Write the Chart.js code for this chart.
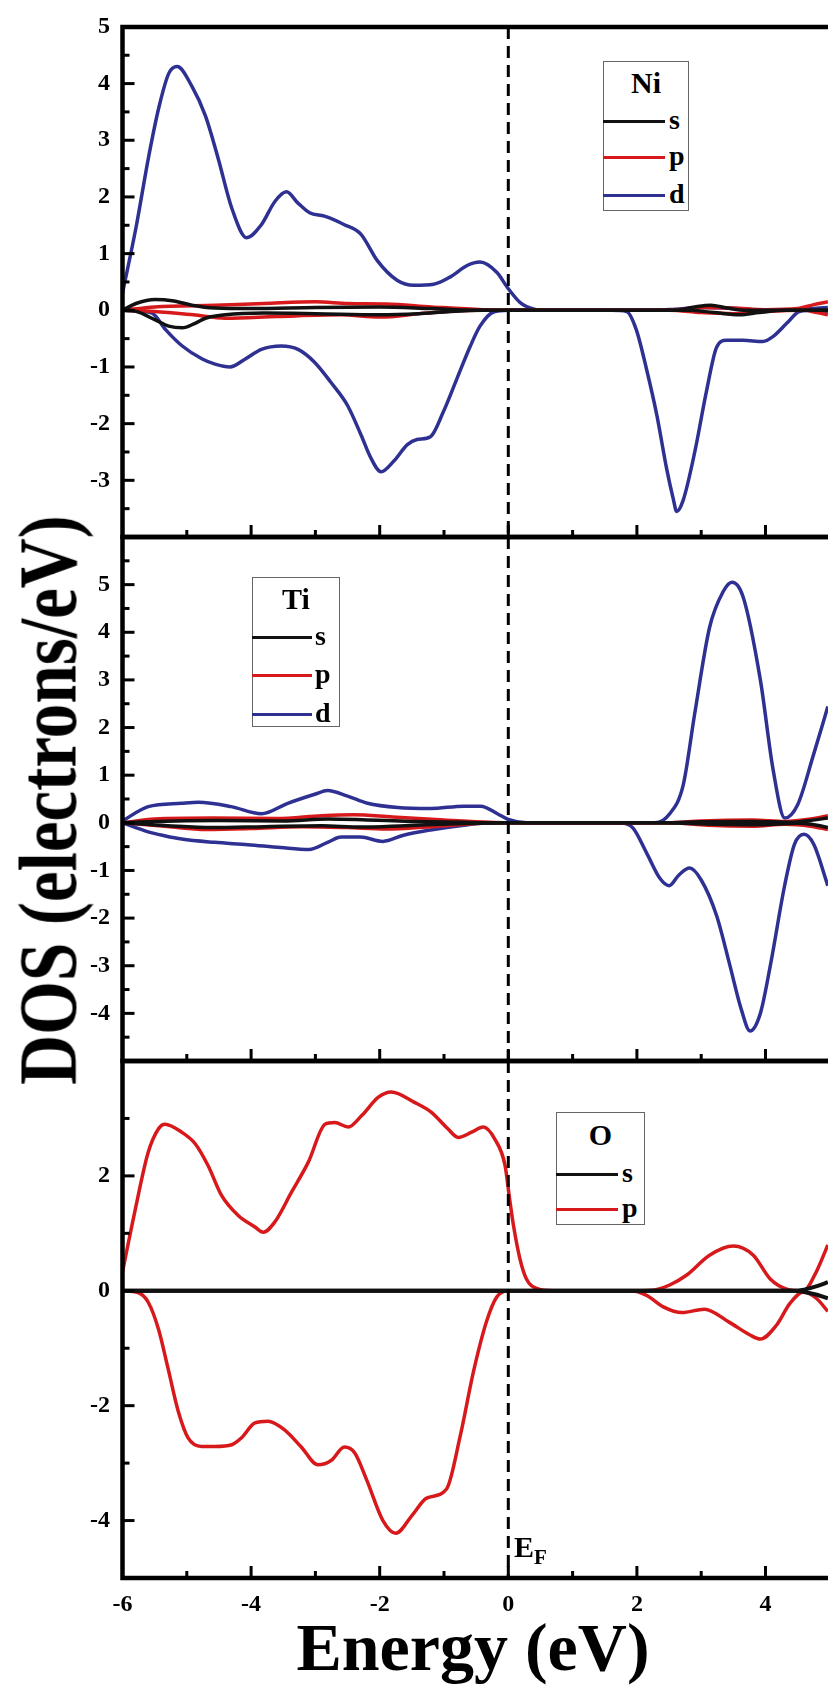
<!DOCTYPE html>
<html><head><meta charset="utf-8">
<script src="https://cdn.jsdelivr.net/npm/chart.js@4.4.1/dist/chart.umd.min.js"></script>
<style>
html,body{margin:0;padding:0;background:#fff;}
#wrap{position:relative;width:828px;height:1686px;overflow:hidden;background:#fff;font-family:'Liberation Serif','Times New Roman',serif;font-weight:bold;color:#000;}
canvas{position:absolute;left:0;top:0;}
.t{position:absolute;line-height:1;white-space:nowrap;font-weight:bold;}
.lg{position:absolute;border:1.5px solid #666;background:#fff;box-sizing:border-box;}
.ln{position:absolute;height:3px;}
</style></head><body>
<div id="wrap">
<canvas id="c1" width="828" height="1686"></canvas>
<canvas id="c2" width="828" height="1686"></canvas>
<canvas id="c3" width="828" height="1686"></canvas>

<div class="t" style="left:47.5px;top:800px;font-size:83px;transform:translate(-50%,-50%) rotate(-90deg) scaleX(0.834);">DOS (electrons/eV)</div>
<div class="t" style="left:473px;top:1613px;font-size:68px;transform:translateX(-50%);">Energy (eV)</div>
<div class="t" style="left:514px;top:1532px;font-size:30px;">E<span style="font-size:21px;position:relative;top:7px;">F</span></div>
<div id="legends"></div>
</div>
<script>
// ---------------- data (Energy eV, DOS electrons/eV) ----------------
const xTickValues = [-6,-5,-4,-3,-2,-1,0,1,2,3,4];
const xLabelValues = [-6,-4,-2,0,2,4];

const ni_s_up = [[-6,0],[-5.79,0.12],[-5.49,0.19],[-5.23,0.17],[-4.92,0.09],[-4.56,0.04],[-4.0,0.03],[-3.0,0.05],[-2.0,0.06],[-1.2,0.03],[-0.5,0],[0,0],[2.6,0],[2.9,0.06],[3.15,0.09],[3.4,0.04],[3.7,0],[4.97,0]];
const ni_s_dn = [[-6,0],[-5.79,-0.02],[-5.49,-0.17],[-5.28,-0.28],[-5.07,-0.31],[-4.87,-0.23],[-4.71,-0.14],[-4.4,-0.08],[-3.8,-0.05],[-3.0,-0.06],[-2.0,-0.08],[-1.4,-0.06],[-0.9,-0.02],[-0.4,0],[2.8,0],[3.2,-0.04],[3.6,-0.08],[3.9,-0.04],[4.3,0],[4.97,0]];
const ni_p_up = [[-6,0],[-5.5,0.06],[-4.56,0.09],[-3.8,0.12],[-3.0,0.15],[-2.5,0.12],[-1.9,0.11],[-1.2,0.06],[-0.4,0.01],[0,0],[2.5,0],[3.0,0.05],[3.5,0.04],[4.0,0.01],[4.5,0.03],[4.75,0.1],[4.97,0.15]];
const ni_p_dn = [[-6,0],[-5.5,-0.02],[-4.9,-0.08],[-4.4,-0.14],[-3.6,-0.11],[-2.6,-0.08],[-2.0,-0.12],[-1.3,-0.05],[-0.5,0],[0,0],[2.5,0],[3.0,-0.04],[3.5,-0.06],[4.0,-0.02],[4.6,0],[4.8,-0.04],[4.97,-0.08]];
const ni_d_up = [[-6,0.3],[-5.79,1.46],[-5.59,2.73],[-5.43,3.6],[-5.28,4.18],[-5.15,4.3],[-4.92,3.95],[-4.71,3.43],[-4.51,2.67],[-4.3,1.8],[-4.07,1.28],[-3.84,1.51],[-3.63,1.92],[-3.45,2.09],[-3.27,1.89],[-3.09,1.72],[-2.86,1.66],[-2.55,1.51],[-2.29,1.34],[-2.04,0.88],[-1.73,0.53],[-1.47,0.44],[-1.16,0.46],[-0.9,0.59],[-0.64,0.79],[-0.44,0.85],[-0.18,0.67],[0,0.38],[0.2,0.12],[0.4,0.02],[0.6,0],[2.3,0],[2.6,0.02],[3.0,0.05],[3.4,0.04],[3.8,0.01],[4.3,0],[4.6,0.02],[4.97,0.05]];
const ni_d_dn = [[-6,0],[-5.8,-0.01],[-5.54,-0.05],[-5.33,-0.34],[-5.07,-0.63],[-4.76,-0.86],[-4.56,-0.95],[-4.33,-1.0],[-4.09,-0.86],[-3.84,-0.69],[-3.53,-0.63],[-3.27,-0.69],[-3.01,-0.92],[-2.76,-1.27],[-2.5,-1.68],[-2.29,-2.2],[-2.14,-2.6],[-1.98,-2.85],[-1.78,-2.66],[-1.57,-2.37],[-1.42,-2.28],[-1.21,-2.23],[-1.01,-1.79],[-0.8,-1.21],[-0.59,-0.63],[-0.44,-0.28],[-0.23,-0.03],[0,0],[1.6,0],[1.84,-0.02],[1.99,-0.34],[2.15,-1.04],[2.31,-1.85],[2.46,-2.78],[2.56,-3.3],[2.62,-3.55],[2.72,-3.35],[2.9,-2.5],[3.08,-1.44],[3.24,-0.65],[3.39,-0.53],[3.65,-0.53],[3.96,-0.55],[4.12,-0.46],[4.33,-0.23],[4.53,-0.02],[4.79,0],[4.97,-0.03]];

const ti_s_up = [[-6,0],[-5.5,0.03],[-4.5,0.05],[-3.5,0.04],[-2.8,0.08],[-2.2,0.06],[-1.5,0.03],[-0.7,0.01],[0,0],[2.4,0],[3.0,0.02],[3.8,0.03],[4.4,0.01],[4.7,0.05],[4.97,0.1]];
const ti_s_dn = [[-6,0],[-5.3,-0.06],[-4.6,-0.1],[-3.8,-0.08],[-2.9,-0.06],[-2.3,-0.09],[-1.6,-0.06],[-0.8,-0.02],[0,0],[2.4,0],[3.2,-0.03],[3.9,-0.04],[4.5,-0.01],[4.8,-0.05],[4.97,-0.1]];
const ti_p_up = [[-6,0],[-5.5,0.08],[-4.6,0.1],[-3.6,0.09],[-2.9,0.15],[-2.4,0.17],[-1.8,0.12],[-1.0,0.06],[-0.3,0.01],[0,0],[2.5,0],[3.0,0.04],[3.8,0.06],[4.3,0.03],[4.7,0.08],[4.97,0.15]];
const ti_p_dn = [[-6,0],[-5.3,-0.08],[-4.7,-0.14],[-4.0,-0.12],[-3.2,-0.08],[-2.5,-0.1],[-1.9,-0.13],[-1.2,-0.08],[-0.4,-0.01],[0,0],[2.5,0],[3.1,-0.05],[3.8,-0.07],[4.3,-0.03],[4.7,-0.07],[4.97,-0.14]];
const ti_d_up = [[-6,0.04],[-5.6,0.34],[-5.08,0.41],[-4.82,0.43],[-4.31,0.34],[-3.84,0.19],[-3.43,0.41],[-3.01,0.6],[-2.81,0.68],[-2.5,0.56],[-2.19,0.41],[-1.72,0.32],[-1.21,0.3],[-0.69,0.35],[-0.43,0.35],[-0.17,0.19],[0,0.07],[0.28,0],[2.28,0],[2.51,0.19],[2.72,0.79],[2.9,2.3],[3.13,4.1],[3.34,4.85],[3.48,5.05],[3.65,4.75],[3.92,3.0],[4.12,1.1],[4.3,0.1],[4.5,0.38],[4.74,1.4],[4.97,2.44]];
const ti_d_dn = [[-6,0],[-5.6,-0.19],[-5.35,-0.27],[-5.08,-0.34],[-4.57,-0.41],[-4.05,-0.46],[-3.54,-0.52],[-3.1,-0.56],[-2.81,-0.41],[-2.6,-0.3],[-2.3,-0.3],[-1.95,-0.39],[-1.63,-0.26],[-1.21,-0.15],[-0.69,-0.05],[-0.3,0],[1.73,0],[1.94,-0.11],[2.15,-0.63],[2.36,-1.17],[2.5,-1.32],[2.65,-1.1],[2.82,-0.95],[3.0,-1.2],[3.24,-1.95],[3.44,-2.96],[3.62,-3.9],[3.76,-4.37],[3.92,-4.0],[4.08,-2.96],[4.3,-1.3],[4.45,-0.45],[4.6,-0.24],[4.75,-0.45],[4.97,-1.32]];

const o_s_up = [[-6,0],[4.45,0],[4.6,0.02],[4.8,0.08],[4.97,0.15]];
const o_s_dn = [[-6,0],[4.45,0],[4.6,-0.02],[4.8,-0.07],[4.97,-0.13]];
const o_p_up = [[-6,0.33],[-5.81,1.37],[-5.6,2.41],[-5.44,2.82],[-5.34,2.9],[-5.08,2.76],[-4.87,2.56],[-4.67,2.18],[-4.46,1.66],[-4.2,1.31],[-3.94,1.11],[-3.81,1.02],[-3.63,1.2],[-3.37,1.72],[-3.11,2.24],[-2.85,2.9],[-2.7,2.93],[-2.49,2.85],[-2.28,3.05],[-2.02,3.37],[-1.82,3.46],[-1.46,3.28],[-1.2,3.11],[-0.94,2.82],[-0.78,2.67],[-0.57,2.76],[-0.39,2.85],[-0.21,2.64],[-0.05,2.18],[0.02,1.6],[0.08,1.14],[0.18,0.56],[0.28,0.21],[0.44,0.04],[0.7,0],[2.0,0],[2.3,0.02],[2.51,0.1],[2.77,0.27],[3.13,0.62],[3.5,0.78],[3.81,0.62],[4.07,0.21],[4.33,0.03],[4.59,0],[4.79,0.33],[4.97,0.8]];
const o_p_dn = [[-6,0],[-5.76,-0.03],[-5.6,-0.2],[-5.44,-0.67],[-5.29,-1.36],[-5.13,-2.11],[-4.98,-2.56],[-4.77,-2.71],[-4.56,-2.71],[-4.3,-2.68],[-4.15,-2.56],[-3.94,-2.3],[-3.74,-2.27],[-3.48,-2.42],[-3.22,-2.72],[-2.96,-3.03],[-2.75,-2.95],[-2.55,-2.72],[-2.39,-2.82],[-2.2,-3.3],[-1.95,-4.0],[-1.75,-4.22],[-1.49,-3.9],[-1.27,-3.61],[-0.96,-3.45],[-0.75,-2.54],[-0.54,-1.4],[-0.34,-0.54],[-0.18,-0.11],[0,0],[1.9,0],[2.15,-0.08],[2.41,-0.28],[2.7,-0.38],[3.05,-0.32],[3.44,-0.55],[3.76,-0.77],[3.92,-0.84],[4.17,-0.6],[4.38,-0.22],[4.59,-0.02],[4.79,-0.13],[4.97,-0.36]];

const p1YLabels = [-3,-2,-1,0,1,2,3,4,5];
const p2YLabels = [-4,-3,-2,-1,0,1,2,3,4,5];
const p3YLabels = [-4,-2,0,2];

// ---------------- drawing ----------------
const FONT = "'Liberation Serif','Times New Roman',serif";
const BLUE = '#2e3192', RED = '#d7191c', BLACK = '#111111';
const LEFT = 122.5, X_MIN = -6, X_MAX = 4.972, H = 1686, XAXIS_H = 40;

function ds(points, color, w) {
  return { data: points.map(p => ({x: p[0], y: p[1]})), borderColor: color, borderWidth: w || 3.5,
           pointRadius: 0, fill: false, cubicInterpolationMode: 'monotone' };
}
function range(a, b, s) { const r = []; for (let v = a; v <= b + 1e-9; v += s) r.push(Math.round(v * 100) / 100); return r; }

function framePlugin(cfg) {
  return {
    id: 'frame' + cfg.id,
    afterDatasetsDraw(chart) {
      const {ctx, chartArea: a, scales: {x, y}} = chart;
      ctx.save();
      ctx.strokeStyle = '#000';
      ctx.lineWidth = 3;
      xTickValues.forEach(v => {
        const px = x.getPixelForValue(v), L = xLabelValues.includes(v) ? 12 : 7;
        ctx.beginPath(); ctx.moveTo(px, a.bottom); ctx.lineTo(px, a.bottom - L); ctx.stroke();
      });
      cfg.yMajor.forEach(v => { const py = y.getPixelForValue(v); ctx.beginPath(); ctx.moveTo(a.left, py); ctx.lineTo(a.left + 12, py); ctx.stroke(); });
      cfg.yMinor.forEach(v => { const py = y.getPixelForValue(v); ctx.beginPath(); ctx.moveTo(a.left, py); ctx.lineTo(a.left + 7, py); ctx.stroke(); });
      const zx = x.getPixelForValue(0);
      ctx.setLineDash([12, 7]);
      ctx.beginPath(); ctx.moveTo(zx, a.top); ctx.lineTo(zx, a.bottom); ctx.stroke();
      ctx.setLineDash([]);
      ctx.lineWidth = 4.5;
      ctx.beginPath();
      ctx.moveTo(a.left, a.top); ctx.lineTo(a.right + 5, a.top);
      ctx.moveTo(a.left, a.bottom); ctx.lineTo(a.right + 5, a.bottom);
      ctx.moveTo(a.left, a.top - 2.25); ctx.lineTo(a.left, a.bottom + 2.25);
      ctx.stroke();
      ctx.restore();
    }
  };
}

function makePanel(cfg) {
  const tickFont = {family: FONT, size: 24, weight: 'bold'};
  const xScale = {
    type: 'linear', min: X_MIN, max: X_MAX, display: cfg.showX,
    grid: {display: false, drawTicks: false}, border: {display: false},
    afterBuildTicks: s => { s.ticks = xLabelValues.map(v => ({value: v})); },
    ticks: {padding: 12, font: tickFont, color: '#000', maxRotation: 0, autoSkip: false, callback: v => String(v)}
  };
  if (cfg.showX) xScale.afterFit = s => { s.height = XAXIS_H; };
  return new Chart(document.getElementById(cfg.id), {
    type: 'line',
    data: {datasets: cfg.datasets},
    options: {
      responsive: false, animation: false, devicePixelRatio: 1,
      layout: {padding: {top: cfg.top, bottom: cfg.showX ? H - cfg.bottom - XAXIS_H : H - cfg.bottom, left: 0, right: 0}},
      plugins: {legend: {display: false}, tooltip: {enabled: false}},
      scales: {
        x: xScale,
        y: {
          type: 'linear', min: cfg.ymin, max: cfg.ymax,
          grid: {display: false, drawTicks: false}, border: {display: false},
          afterBuildTicks: s => { s.ticks = cfg.yLabels.map(v => ({value: v})); },
          afterFit: s => { s.width = LEFT; },
          ticks: {padding: 12.5, font: tickFont, color: '#000', autoSkip: false, callback: v => String(v)}
        }
      }
    },
    plugins: [framePlugin(cfg)]
  });
}

makePanel({id: 'c1', top: 19.5, bottom: 537, ymin: -4, ymax: 5, yLabels: p1YLabels,
  yMajor: range(-3, 4, 1), yMinor: range(-3.5, 4.5, 1), showX: false,
  datasets: [ds(ni_s_up, BLACK), ds(ni_s_dn, BLACK), ds(ni_p_up, RED), ds(ni_p_dn, RED), ds(ni_d_up, BLUE), ds(ni_d_dn, BLUE)]});
makePanel({id: 'c2', top: 537, bottom: 1061, ymin: -5, ymax: 6, yLabels: p2YLabels,
  yMajor: range(-4, 5, 1), yMinor: range(-4.5, 5.5, 1), showX: false,
  datasets: [ds(ti_s_up, BLACK), ds(ti_s_dn, BLACK), ds(ti_p_up, RED), ds(ti_p_dn, RED), ds(ti_d_up, BLUE), ds(ti_d_dn, BLUE)]});
makePanel({id: 'c3', top: 1061, bottom: 1578, ymin: -5, ymax: 4, yLabels: p3YLabels,
  yMajor: [-4, -2, 0, 2], yMinor: [-3, -1, 1, 3], showX: true,
  datasets: [ds(o_s_up, BLACK, 4), ds(o_s_dn, BLACK, 4), ds(o_p_up, RED), ds(o_p_dn, RED)]});

// ---------------- boxed legends (HTML text) ----------------
const niLegend = {title: 'Ni', labels: ['s', 'p', 'd'], colors: [BLACK, RED, BLUE]};
const tiLegend = {title: 'Ti', labels: ['s', 'p', 'd'], colors: [BLACK, RED, BLUE]};
const oLegend = {title: 'O', labels: ['s', 'p'], colors: [BLACK, RED]};

function buildLegend(lg, box, titleBase, lineYs, lineW, labelX) {
  const host = document.getElementById('legends');
  const b = document.createElement('div');
  b.className = 'lg';
  Object.assign(b.style, {left: box.l + 'px', top: box.t + 'px', width: box.w + 'px', height: box.h + 'px'});
  host.appendChild(b);
  const t = document.createElement('div');
  t.className = 't'; t.textContent = lg.title;
  Object.assign(t.style, {left: box.l + 'px', width: box.w + 'px', textAlign: 'center', top: (titleBase - 0.8375 * 30) + 'px', fontSize: '30px'});
  host.appendChild(t);
  lg.labels.forEach((lab, i) => {
    const y = lineYs[i];
    const ln = document.createElement('div');
    ln.className = 'ln';
    Object.assign(ln.style, {left: box.l + 'px', top: (y - 1.5) + 'px', width: lineW + 'px', background: lg.colors[i]});
    host.appendChild(ln);
    const tx = document.createElement('div');
    tx.className = 't'; tx.textContent = lab;
    Object.assign(tx.style, {left: labelX + 'px', top: (y + 8 - 0.8375 * 28) + 'px', fontSize: '28px'});
    host.appendChild(tx);
  });
}
buildLegend(niLegend, {l: 603, t: 61, w: 86, h: 150}, 93, [121, 157, 195], 62, 669);
buildLegend(tiLegend, {l: 252, t: 577, w: 88, h: 150}, 609, [637, 675, 714], 60, 315);
buildLegend(oLegend, {l: 556, t: 1112, w: 89, h: 113}, 1145, [1174, 1209], 62, 622);
</script>
</body></html>
